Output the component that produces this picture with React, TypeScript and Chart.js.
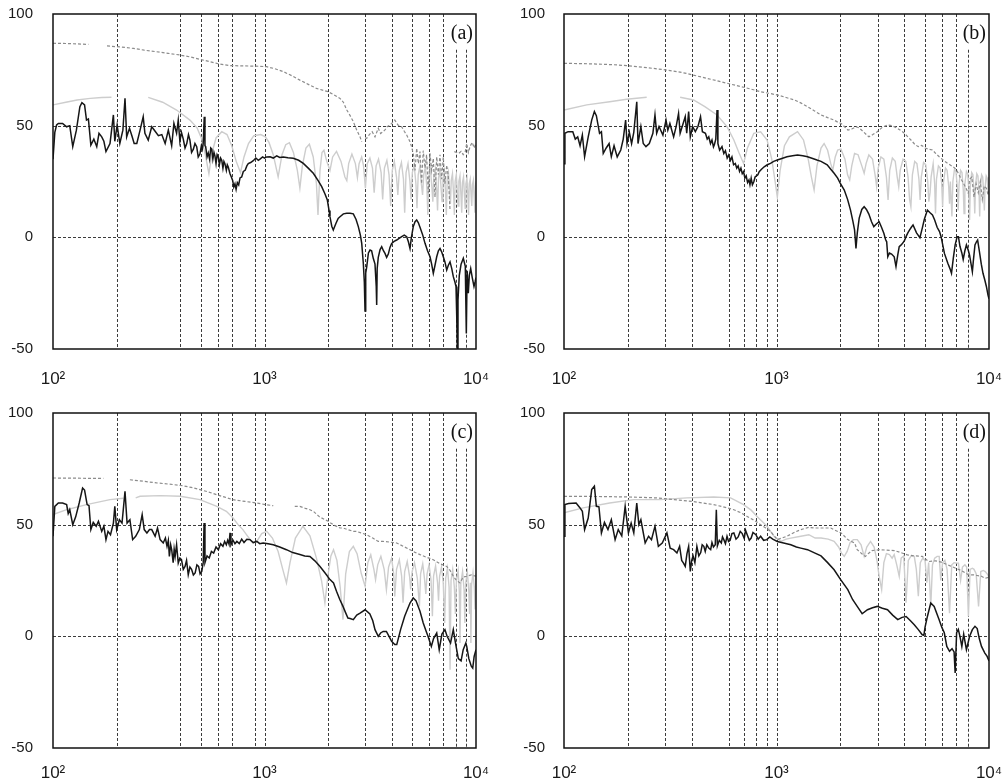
import React, { useEffect, useRef } from 'react';
import { Chart, registerables } from 'chart.js';

Chart.register(...registerables);

type Pt = [number, number | null];

// ---------- axes / grid ----------
const yTicks = [-50, 0, 50, 100];
const yGridValues = [0, 50];
const xTicks = [100, 1000, 10000];
const xTickLabels = ['10\u00B2', '10\u00B3', '10\u2074'];
const gridAC = [200, 400, 500, 600, 700, 900, 1000, 2000, 3000, 4000, 5000, 6000, 7000];
const gridACPartial = [8000, 9000];
const gridBD = [200, 300, 400, 600, 700, 800, 900, 1000, 2000, 3000, 4000, 5000, 6000, 7000];
const gridBDPartial = [8000];
const partialTop = 84;
const panelLabels = ['(a)', '(b)', '(c)', '(d)'];

// ---------- panel (a) ----------
const aBlack: Pt[] = [
  [100, 35], [102, 47], [104, 50.3], [106, 51], [111, 51], [116, 49.5], [120, 50], [124, 40.6], [129, 48], [134, 58.5],
  [137, 60.3], [141, 59.3], [144, 52.5], [147, 53], [151, 41.3], [156, 44], [161, 40.6], [165, 46.6], [170, 45], [174, 43],
  [178, 38.4], [186, 42], [193, 54.8], [196, 43], [201, 50.3], [207, 42], [214, 48], [219, 62.3], [223, 45], [230, 48.8],
  [236, 45.5], [242, 42], [249, 42], [258, 48], [267, 54], [272, 46.6], [282, 43.5], [293, 49.5], [304, 47.5], [315, 45.5],
  [327, 46], [339, 42], [351, 48], [364, 41], [373, 51], [384, 46.6], [391, 52.5], [398, 43], [405, 47], [413, 44],
  [421, 40], [429, 42], [437, 46], [444, 43.5], [452, 38], [461, 39.5], [469, 42], [478, 40.6], [486, 36], [495, 37.3],
  [503, 41], [508, 39.5], [513, 42], [519, 54], [523, 41], [527, 40.6], [535, 36], [542, 37.8], [550, 35], [557, 40],
  [563, 39.5], [570, 35], [577, 38], [583, 36.5], [590, 33], [597, 37], [605, 36], [612, 32.5], [620, 35.5], [628, 34.5],
  [636, 31], [643, 34], [650, 33], [660, 30], [667, 32.5], [674, 31.5], [687, 28.5], [697, 27], [707, 25.5], [716, 22.5],
  [725, 24], [734, 21.5], [744, 24.5], [755, 23.5], [766, 26.6], [780, 27], [794, 29.5], [810, 30], [825, 32], [838, 33],
  [860, 33.5], [885, 34.3], [910, 35.5], [935, 34.5], [952, 35], [980, 36], [1000, 35.5], [1024, 36], [1062, 36.1], [1100, 35.5],
  [1142, 36.5], [1180, 35.8], [1227, 36], [1290, 35.6], [1368, 35.4], [1450, 34.5], [1526, 33.1], [1610, 31], [1701, 28.7], [1790, 25.5],
  [1864, 22.7], [1930, 19.5], [1982, 16.7], [2020, 12], [2040, 9.2], [2080, 5], [2115, 3.3], [2140, 4.5], [2178, 6.3], [2230, 8.5],
  [2275, 9.2], [2360, 10.5], [2447, 10.8], [2540, 10.8], [2630, 10.5], [2710, 8], [2777, 4.8], [2840, 1], [2882, -2.7], [2932, -11.6],
  [2965, -20], [2987, -33], [3010, -16], [3043, -13.2], [3100, -7], [3155, -5.7], [3210, -6], [3268, -9.4], [3330, -12], [3375, -22],
  [3392, -30.3], [3410, -14], [3451, -9], [3520, -5.5], [3582, -4.2], [3650, -6], [3713, -7.2], [3780, -9], [3849, -7.5], [3920, -4.5],
  [3993, -2.7], [4100, -1.8], [4217, -1.2], [4330, -0.5], [4454, 0.3], [4580, 1], [4703, 0.3], [4790, -2], [4875, -5], [4950, 0],
  [5051, 4.8], [5150, 7], [5243, 7.8], [5340, 6.5], [5435, 4.5], [5600, 1], [5741, -2.7], [5900, -6], [6061, -8.7], [6170, -12],
  [6283, -16.1], [6400, -12.5], [6520, -8.7], [6640, -6], [6758, -5], [6880, -6.5], [7005, -8.7], [7130, -11], [7270, -14.6], [7400, -12.5],
  [7537, -11], [7680, -14], [7812, -17.6], [7950, -20], [8044, -22], [8110, -36], [8159, -50], [8220, -28], [8337, -17], [8500, -12],
  [8710, -9.4], [8900, -13], [9000, -43], [9080, -15], [9197, -25], [9300, -17], [9440, -14], [9600, -18], [9784, -22], [9900, -20],
  [10000, -18],
];
const aDashed: Pt[] = [
  [100, 86.9], [115, 86.8], [130, 86.6], [147, 86.4], [150, null],
  [180, 85.7], [210, 85.2], [240, 84.6], [270, 83.8], [309, 83.1], [350, 82.4], [400, 81.6], [450, 80.7], [495, 79.7], [545, 78.8],
  [595, 77.9], [640, 77.3], [687, 76.9], [760, 76.8], [854, 76.7], [940, 76.6], [1024, 76.4], [1120, 75.5], [1227, 74.2], [1350, 72.3],
  [1470, 70.4], [1610, 68.5], [1760, 66.7], [1880, 65.9], [2000, 65.2], [2130, 63.8], [2275, 62.2], [2360, 60.5], [2450, 57], [2540, 54.5],
  [2630, 51.8], [2730, 48], [2828, 45], [2882, 42.8], [2930, null],
  [2987, 44.5], [3043, 44.3], [3130, 46], [3230, 47.3], [3330, 45], [3451, 48.8], [3540, 46.5], [3638, 47.3], [3720, 48.2], [3800, 49.5],
  [3900, 50.2], [3993, 51], [4130, 52.5], [4276, 50.3], [4450, 49.5], [4580, 47.5], [4703, 45.8], [4875, 42.8], [4960, 40.5],
  [5050, 37.6], [5150, 30], [5243, 39.9], [5340, 33], [5435, 38.4], [5530, 24], [5630, 38.8], [5740, 31], [5840, 37], [5950, 20],
  [6060, 37.6], [6170, 30], [6283, 35.3], [6400, 18], [6520, 36], [6640, 28], [6758, 37], [6880, 26], [7005, 36], [7130, 24],
  [7270, 32.3], [7400, 27.1], [7537, 12], [7650, null],
  [7900, 38.4], [8100, 38], [8300, 37.6], [8500, 38.5], [8700, 37], [8900, 38.4], [9036, 42], [9200, 38], [9400, 41], [9600, 42.5],
  [9800, 40], [10000, 42],
];
const aLight: Pt[] = [
  [100, 59.3], [115, 60.5], [130, 61.5], [150, 62.2], [170, 62.6], [189, 62.7], [192, null],
  [282, 62.7], [330, 60.5], [384, 57], [444, 52.5], [480, 49], [505, 44], [525, 37], [546, 28.5], [565, 38],
  [590, 44.5], [628, 47.3], [665, 46], [700, 41], [735, 34], [770, 29], [800, 36], [840, 42], [890, 45.5], [960, 46],
  [1010, 45], [1050, 42.5], [1100, 37], [1160, 27.1], [1210, 37], [1260, 41.5], [1312, 42.4], [1370, 38], [1430, 30], [1470, 22],
  [1510, 32], [1570, 40], [1630, 41.7], [1700, 36], [1760, 24], [1790, 10], [1830, 30], [1870, 38], [1910, 39], [1970, 34],
  [2040, 30], [2100, 36], [2190, 38.5], [2300, 34], [2400, 27], [2450, 25.4], [2500, 33], [2590, 37.3], [2690, 33], [2750, 26.7],
  [2800, 33], [2880, 36], [2940, 32], [3000, 22], [3060, 33], [3150, 35.5], [3240, 31], [3300, 20], [3370, 32], [3460, 35],
  [3560, 29], [3620, 17], [3690, 31], [3790, 34.5], [3880, 28], [3950, 14], [4020, 30], [4110, 34], [4210, 27], [4270, 19],
  [4340, 30], [4440, 33.5], [4540, 26], [4600, 11], [4670, 29], [4770, 33], [4870, 25], [4930, 17], [5000, 29], [5100, 32.5],
  [5200, 24], [5260, 13], [5330, 28], [5430, 32], [5530, 23], [5590, 19], [5660, 28], [5760, 31.5], [5860, 22], [5920, 10],
  [5990, 27], [6090, 31], [6190, 22], [6250, 16], [6320, 27], [6420, 30.5], [6520, 21], [6580, 12], [6650, 26.5], [6750, 30],
  [6850, 21], [6910, 16], [6980, 26], [7080, 29.5], [7180, 20], [7240, 10], [7310, 26], [7410, 29], [7510, 20], [7570, 15],
  [7640, 25.5], [7740, 28.5], [7840, 19], [7900, 10], [7970, 25], [8070, 28], [8170, 19], [8230, 14], [8300, 25], [8400, 27.5],
  [8500, 18], [8560, 11], [8630, 24.5], [8730, 27], [8830, 18], [8890, 13], [8960, 24], [9060, 26.5], [9160, 18], [9220, 10],
  [9290, 24], [9390, 26], [9490, 18], [9550, 14], [9620, 23.5], [9720, 25.5], [9820, 17], [9880, 11], [9950, 23], [10000, 25],
];

// ---------- panel (b) ----------
const bBlack: Pt[] = [
  [100, 33], [101, 46.6], [104.5, 47.3], [110, 47.3], [113, 44], [116, 45], [119, 41], [122, 45.8], [125, 36.1], [130, 45],
  [135, 52.5], [139, 56.3], [142, 54.5], [147, 46.6], [150, 47.3], [153, 37.6], [158, 40], [163, 42], [167, 36.1], [172, 41],
  [178, 36], [185, 39.1], [190, 44], [195, 52.5], [198, 42], [203, 47], [208, 42], [213, 47], [220, 60.7], [223, 42],
  [230, 49.6], [236, 42], [243, 40.6], [252, 42], [262, 46.6], [268, 54.8], [273, 46.6], [280, 49.6], [292, 45.8], [302, 52.5],
  [308, 48], [315, 51], [328, 45], [337, 49.6], [346, 55.5], [352, 46.6], [360, 49.6], [372, 54], [378, 46.6], [386, 56.3],
  [393, 45], [403, 49.6], [415, 47.3], [427, 49.6], [439, 54], [448, 47.3], [463, 46.6], [472, 44], [480, 45], [489, 42],
  [497, 43.6], [505, 40.5], [510, 41.5], [518, 44], [525, 57], [530, 42], [540, 39], [554, 40.6], [565, 37.5], [575, 38.8],
  [586, 35.5], [596, 36.9], [607, 34.5], [617, 36], [628, 32.5], [640, 33.1], [650, 31], [660, 32], [670, 29.5], [680, 31],
  [690, 28.5], [700, 29.4], [710, 26.5], [720, 27.5], [731, 24.5], [742, 25.7], [750, 23.5], [760, 26.5], [770, 23.5], [782, 24.9],
  [793, 27], [805, 27.5], [817, 28], [829, 29.4], [850, 30.5], [875, 31.6], [905, 32.5], [937, 33.1], [970, 34], [1009, 34.6],
  [1060, 35.3], [1120, 36.1], [1190, 36.5], [1256, 36.9], [1330, 36.5], [1400, 36.1], [1480, 35.3], [1550, 34.6], [1620, 34], [1732, 32.5],
  [1800, 30.5], [1867, 28.7], [1940, 26.5], [2000, 24], [2084, 21.2], [2160, 17], [2230, 12.2], [2290, 7], [2330, 3.3], [2366, -5],
  [2400, 2], [2450, 8.6], [2520, 12.5], [2585, 13.7], [2650, 12.5], [2720, 10.4], [2800, 7], [2870, 4.8], [2950, 6], [3040, 7],
  [3120, 4.5], [3200, 1.8], [3260, -1], [3300, -2], [3340, -8.7], [3400, -7], [3480, -7.5], [3580, -8.7], [3650, -13.1], [3720, -8],
  [3780, -4.2], [3850, -3.5], [3920, -2.7], [4000, -1.5], [4070, 0.3], [4150, 2], [4230, 3.3], [4310, 4.5], [4390, 5.5], [4560, 2],
  [4730, -0.2], [4850, 4], [4960, 8], [5130, 12.2], [5280, 11], [5420, 10], [5550, 7.8], [5700, 4.5], [5850, 2.6], [5950, 0.3],
  [6170, -7.2], [6400, -11.6], [6550, -14], [6660, -16.1], [6800, -9], [6930, -3.4], [7080, 0.3], [7180, 0.3], [7300, -4], [7450, -7],
  [7560, -9.9], [7700, -6], [7830, -3.4], [8000, -6], [8100, -8], [8350, -15.4], [8450, -10], [8590, -3.4], [8730, -2], [8840, -1.2],
  [9000, -6], [9200, -12], [9370, -16.1], [9550, -19], [9720, -22], [9900, -26], [10000, -27.5],
];
const bDashed: Pt[] = [
  [100, 77.9], [120, 77.8], [142, 77.6], [170, 77.3], [197, 76.9], [245, 76], [305, 74.9], [340, 74.2], [378, 73.4], [420, 72.3],
  [470, 71.2], [520, 70.2], [585, 69], [640, 68.1], [700, 67.2], [770, 66.2], [842, 65.2], [920, 64.5], [1015, 63.7], [1110, 62.6],
  [1213, 61.5], [1300, 60.2], [1400, 58.5], [1510, 56.6], [1620, 54.8], [1740, 53.6], [1867, 52.5], [1940, 51.6], [2015, 51], [2090, 49.5],
  [2170, 48], [2260, 48.5], [2366, 49.5], [2450, 49], [2560, 47.3], [2720, 45], [2840, 46], [2980, 47.3], [3150, 49.3], [3330, 50.3],
  [3500, 50], [3680, 49], [3850, 47.8], [4000, 46.6], [4150, 45], [4290, 43.6], [4460, 41.8], [4640, 40.6], [4820, 41.2], [5000, 40],
  [5200, 39.5], [5420, 39.1], [5620, 37.5], [5830, 36.1], [6100, 34.5], [6400, 33.1], [6800, 31.5], [7000, 30.5], [7180, 28.6], [7400, 26],
  [7600, 24], [7800, 22], [7990, 19.7], [8100, 26], [8300, 27], [8500, 18], [8700, 24], [8900, 20], [9100, 25], [9300, 17],
  [9500, 23], [9720, 22], [9900, 19], [10000, 21],
];
const bLight: Pt[] = [
  [100, 57], [128, 59.3], [164, 60.7], [197, 61.8], [245, 62.7], [250, null],
  [352, 62.7], [407, 61.5], [460, 58.5], [525, 54.8], [585, 49.6], [630, 43.6], [665, 38], [700, 33.1], [730, 40], [782, 46.6],
  [842, 47.3], [903, 43.6], [950, 35], [985, 25], [1009, 18], [1040, 30], [1090, 41], [1150, 45], [1256, 47.3], [1340, 43.6],
  [1410, 35], [1460, 27], [1503, 21.2], [1550, 32], [1620, 40], [1675, 42], [1740, 39], [1800, 33], [1840, 30], [1890, 36],
  [1940, 39.1], [2010, 39.5], [2100, 35], [2160, 28], [2210, 25.7], [2260, 32], [2330, 37.6], [2420, 37], [2520, 32], [2585, 28.7],
  [2640, 33], [2720, 36.9], [2830, 35], [2910, 28], [2960, 22.7], [3010, 31], [3100, 36], [3200, 35], [3290, 27], [3350, 16.7],
  [3410, 30], [3510, 35.5], [3620, 34], [3700, 27], [3760, 22.7], [3820, 30], [3940, 35], [4060, 34], [4160, 27], [4230, 17],
  [4290, 13.7], [4360, 28], [4470, 34], [4580, 33], [4680, 26], [4740, 16.7], [4800, 27], [4920, 33.5], [5040, 32.5], [5150, 25],
  [5210, 16], [5280, 20], [5340, 27], [5460, 33], [5550, 24], [5600, 10.7], [5660, 26], [5780, 32], [5890, 31], [5990, 24],
  [6050, 13.7], [6110, 25], [6240, 31], [6350, 30], [6460, 23], [6520, 15], [6580, 25], [6690, 9.3], [6760, 25], [6880, 30.5],
  [6990, 29.5], [7100, 22], [7160, 12], [7230, 24], [7350, 30], [7460, 29], [7570, 21], [7630, 10.7], [7700, 24], [7830, 29.5],
  [7940, 28.5], [8040, 21], [8100, 7.8], [8170, 23], [8290, 29], [8400, 28], [8510, 20], [8570, 10.7], [8640, 23], [8760, 28.5],
  [8870, 27.5], [8980, 20], [9040, 9.3], [9110, 22], [9230, 28], [9340, 27], [9450, 19], [9510, 12], [9580, 22], [9700, 27.5],
  [9810, 26.5], [9920, 19], [10000, 27],
];

// ---------- panel (c) ----------
const cBlack: Pt[] = [
  [100, 44.8], [102, 58.2], [106, 59.7], [111, 59.7], [116, 59], [118, 55], [120, 56.7], [124, 50], [128, 53.5], [133, 59.7],
  [138, 66.4], [141, 65.5], [145, 59], [148, 58.5], [151, 47.8], [155, 51], [160, 49.3], [164, 51.5], [170, 47], [174, 49.3],
  [178, 43.3], [182, 47], [187, 45.5], [193, 50.7], [196, 58.2], [200, 47.8], [206, 52.2], [212, 50.7], [219, 64.9], [224, 50.7],
  [231, 52.2], [238, 43.3], [246, 44.8], [256, 47.8], [264, 54.5], [270, 47.8], [278, 46.3], [286, 47.8], [293, 47.8], [304, 44.8],
  [312, 48.5], [321, 43.3], [332, 41.8], [340, 44], [346, 40.3], [351, 43], [355, 35.8], [360, 41], [364, 38.8], [370, 33],
  [374, 39], [378, 35.8], [384, 41], [391, 32.8], [398, 35], [405, 34.3], [413, 30], [421, 31.3], [428, 34], [436, 27.6],
  [444, 31], [452, 30], [461, 27.5], [470, 28.4], [479, 32], [488, 31.3], [496, 28], [505, 29.1], [513, 33], [518, 50.7],
  [523, 33], [535, 36], [548, 35.1], [561, 38], [575, 37.3], [590, 40], [605, 38.8], [620, 41.5], [636, 40.3], [648, 42.5],
  [660, 41], [670, 43], [680, 41.2], [687, 46.3], [694, 41], [710, 43], [725, 41.5], [740, 42.5], [760, 41.5], [780, 43.5],
  [800, 42], [825, 43.5], [854, 43.3], [885, 42], [920, 42.5], [950, 41.5], [985, 41.8], [1040, 41.5], [1100, 41], [1180, 40],
  [1270, 38.8], [1360, 37.5], [1470, 36.6], [1550, 36], [1640, 35.8], [1730, 33.8], [1830, 31.3], [1930, 28.5], [2040, 25.4], [2120, 23.9],
  [2190, 20.2], [2270, 16.5], [2350, 13.4], [2420, 10.5], [2480, 8.2], [2540, 8], [2630, 7.5], [2730, 9.5], [2830, 10.4], [2990, 11.9],
  [3150, 10], [3250, 7], [3330, 3], [3450, 0], [3540, 1.5], [3640, 2.2], [3770, 2.2], [3880, 0], [3990, -2.2], [4130, -3.7],
  [4220, -3.7], [4400, 3], [4600, 9], [4875, 14.9], [5050, 17.2], [5200, 16], [5435, 11.2], [5630, 6], [5800, 2.5], [5930, 0],
  [6150, -4.5], [6300, -1], [6520, 1.5], [6700, -6], [6900, 1], [7130, 3], [7300, 0], [7580, -3], [7810, 3], [8000, -3],
  [8250, -10], [8500, -11], [8700, -6], [8950, -3], [9040, -4.5], [9250, -10], [9500, -13.4], [9650, -14.2], [9800, -9], [10000, -6],
];
const cDashed: Pt[] = [
  [100, 70.9], [130, 70.8], [173, 70.7], [176, null],
  [231, 70.1], [270, 69.4], [309, 68.7], [350, 68.2], [400, 67.6], [450, 66.7], [495, 65.7], [545, 64.6], [595, 63.4], [650, 62.3],
  [710, 61.2], [810, 60.4], [918, 59.7], [1010, 59], [1100, 58.5], [1120, null],
  [1390, 58.2], [1470, 58.2], [1560, 57.3], [1640, 56.7], [1700, 56], [1820, 53.5], [2000, 51.5], [2130, 49.8], [2275, 48.5], [2350, 48.5],
  [2630, 47], [2720, 47], [3040, 45.5], [3250, 44], [3450, 42.5], [3640, 42.5], [3900, 42.2], [4220, 41.8], [4550, 40.2], [4875, 38.8],
  [5150, 37.6], [5435, 36.6], [5800, 35.5], [6280, 34.3], [6760, 32.5], [7270, 31.3], [7540, 29.5], [7800, 27], [8030, 25.4], [8390, 23.9],
  [8700, 26.5], [9040, 26.9], [9500, 27.5], [10000, 26.9],
];
const cLight: Pt[] = [
  [100, 54.5], [116, 56.7], [144, 59], [186, 61.2], [215, 61.8], [218, null],
  [246, 62], [258, 62.7], [321, 63], [400, 62.7], [495, 61.2], [595, 58.2], [660, 56], [710, 53], [750, 50], [790, 47.8],
  [830, 45], [880, 41.8], [920, 42.5], [970, 46], [1024, 47], [1090, 44], [1160, 38], [1220, 30], [1270, 23.9], [1320, 33],
  [1400, 44], [1520, 49.3], [1640, 45], [1760, 35], [1860, 25], [1930, 15], [2000, 28], [2060, 36], [2120, 38.8], [2200, 34],
  [2280, 22], [2350, 7.5], [2420, 28], [2520, 38], [2630, 40.3], [2740, 37], [2870, 28], [2990, 22.4], [3080, 33], [3180, 36.5],
  [3290, 30], [3350, 25.4], [3430, 32], [3550, 35.8], [3680, 30], [3770, 20.9], [3860, 31], [3990, 35], [4080, 28], [4130, 17.9],
  [4210, 30], [4340, 34.3], [4450, 27], [4520, 15], [4600, 29], [4730, 33.5], [4850, 27], [4910, 21], [4990, 29], [5120, 33],
  [5280, 26], [5400, 13.4], [5470, 28], [5600, 32.5], [5720, 25], [5790, 19], [5870, 28], [6000, 32], [6130, 25], [6220, 9],
  [6300, 27], [6440, 31.5], [6580, 24], [6650, 16], [6730, 27], [6870, 31], [7000, 24], [7110, 6], [7190, 26], [7330, 30.5],
  [7460, 22], [7540, -15], [7620, 25], [7760, 30], [7900, 22], [7990, 10], [8080, 25], [8230, 29.5], [8340, 20], [8400, -3],
  [8480, 24], [8640, 29], [8780, 21], [8860, 6], [8950, 24], [9100, 29], [9250, 20], [9320, 10], [9400, 24], [9460, -3],
  [9530, 23], [9680, 28.5], [9820, 22], [9900, 12], [10000, 28],
];

// ---------- panel (d) ----------
const dBlack: Pt[] = [
  [100, 44.8], [101, 59], [105, 59.5], [114, 59.7], [119, 57.5], [122, 56], [125, 47.8], [130, 53], [135, 65.7], [139, 67.2],
  [142, 58.2], [146, 58], [150, 46.3], [155, 51], [161, 47.8], [167, 52.2], [174, 43.3], [180, 47.8], [187, 45], [194, 58.2],
  [201, 46.3], [207, 50.7], [213, 46.3], [220, 59.7], [225, 50], [230, 52.2], [241, 41.8], [250, 44.8], [258, 43.3], [268, 49.3],
  [278, 40.3], [290, 41.8], [305, 46.3], [316, 39.5], [328, 38.8], [340, 37.3], [350, 40.3], [358, 34], [365, 32.8], [372, 31.3],
  [379, 37], [386, 40.3], [393, 29.1], [399, 34], [405, 36], [413, 33], [422, 40.3], [431, 36], [440, 37.5], [447, 41],
  [455, 40.3], [462, 38], [470, 41], [480, 39.5], [490, 38.8], [497, 42], [505, 40], [515, 41], [521, 56.7], [527, 40.5],
  [538, 43], [550, 41.8], [557, 44.5], [565, 43.3], [575, 41.5], [585, 44.8], [595, 42.5], [605, 43], [617, 46], [630, 46.3],
  [645, 43.5], [660, 44.5], [675, 47], [690, 46], [705, 43.8], [715, 47.5], [728, 45.5], [745, 43], [760, 44], [775, 46.5],
  [800, 45.5], [820, 43.5], [842, 44.8], [870, 43], [900, 43.3], [930, 44.5], [960, 43.5], [1009, 42.5], [1080, 41.8], [1168, 41],
  [1240, 40], [1301, 39.5], [1400, 38.8], [1500, 37.5], [1620, 36], [1740, 33], [1867, 29.8], [2000, 25.5], [2165, 20.9], [2280, 16.5],
  [2398, 13.4], [2530, 10.1], [2680, 11.9], [2830, 12.8], [2980, 13.4], [3150, 12.6], [3330, 11.9], [3520, 9.5], [3720, 7.5], [3900, 8.5],
  [4075, 8.9], [4270, 7], [4450, 5.2], [4650, 3], [4850, 0.7], [4940, 0.5], [5000, 4], [5130, 8.9], [5320, 14.9], [5520, 13.4],
  [5820, 7.5], [6000, 4], [6160, 1.6], [6330, -4.5], [6520, -6.7], [6700, -5.5], [6850, -7], [6930, -16.4], [7040, 1.6], [7170, 3.1],
  [7300, 0], [7450, -4.5], [7600, 1], [7830, -6], [8110, 0.1], [8350, 3], [8590, 4.5], [8800, 3.5], [9000, -1], [9220, -4.5],
  [9560, -7.5], [9800, -9], [10000, -11],
];
const dDashed: Pt[] = [
  [100, 62.7], [150, 62.6], [200, 62.4], [273, 62], [330, 61.2], [400, 60.4], [506, 59], [560, 58], [630, 56.7], [680, 55.3],
  [728, 53.7], [790, 51.8], [842, 50], [890, 48.5], [937, 47], [1009, 43.3], [1060, 44], [1120, 44.8], [1210, 46.5], [1301, 47.8],
  [1420, 48.8], [1503, 48.5], [1650, 48.5], [1800, 48.5], [1867, 47.7], [2015, 46.3], [2165, 43.3], [2330, 41.8], [2398, 38.8], [2520, 37],
  [2620, 35.8], [2700, 37], [2812, 38.4], [3070, 38.8], [3300, 38.6], [3580, 38.4], [3850, 37.5], [4130, 36.5], [4500, 36], [4850, 35.8],
  [5200, 33.5], [5600, 33.8], [5960, 33.2], [6400, 32], [6930, 30.6], [7400, 29.5], [7990, 27.6], [8500, 27.5], [9220, 26.9], [9600, 26],
  [10000, 26.5],
];
const dLight: Pt[] = [
  [100, 55.3], [123, 57.5], [164, 59.7], [212, 61.2], [283, 61.2], [378, 62], [506, 62.4], [608, 62], [700, 59], [760, 56.5],
  [810, 53.7], [903, 49.3], [973, 44.8], [1050, 42.5], [1110, 43.5], [1168, 44], [1301, 44.8], [1420, 45.5], [1520, 44], [1620, 44],
  [1750, 43.5], [1867, 42.5], [1960, 40], [2030, 37], [2084, 35.8], [2150, 38], [2220, 42], [2300, 43.3], [2400, 43.3], [2500, 41],
  [2585, 35.8], [2660, 40], [2770, 42.5], [2880, 40], [2970, 34], [3040, 27], [3125, 21], [3200, 33], [3290, 37], [3400, 36.6],
  [3500, 35], [3580, 36.6], [3680, 32], [3780, 26.9], [3860, 35], [3970, 36], [4070, 15], [4170, 34], [4300, 36], [4450, 35.8],
  [4550, 30], [4650, 18], [4750, 33], [4880, 35], [5000, 34], [5100, 24], [5200, 33], [5320, 13.4], [5420, 32], [5550, 35],
  [5700, 35.8], [5830, 35.8], [5930, 25], [6050, 33], [6200, 34], [6350, 30], [6520, 10.4], [6680, 32], [6850, 33], [7020, 32.8],
  [7180, 32.8], [7350, 25], [7500, 31], [7700, 32], [7850, 31], [8000, 9], [8150, 30], [8350, 30.5], [8500, 30], [8700, 28],
  [8930, 13.4], [9150, 29], [9400, 29.5], [9600, 29], [9800, 28], [9960, 27], [10000, 27],
];

type PanelProps = {
  left: number; top: number; width: number; height: number;
  plot: { left: number; top: number; right: number; bottom: number };
  label: string; black: Pt[]; dashed: Pt[]; light: Pt[];
  grid: number[]; gridPartial: number[]; xPad: number; yPad: number;
};

const zeroPad = (s: any) => {
  s.paddingTop = 0; s.paddingBottom = 0; s.paddingLeft = 0; s.paddingRight = 0;
};

function Panel(p: PanelProps) {
  const ref = useRef<HTMLCanvasElement>(null);
  useEffect(() => {
    const canvas = ref.current!;
    const toXY = (arr: Pt[]) => arr.map(([x, y]) => ({ x, y }));
    const overlay = {
      id: 'overlay',
      beforeDatasetsDraw(chart: any) {
        const { ctx, chartArea: ca, scales } = chart;
        const xs = scales.x, ys = scales.y;
        ctx.save();
        ctx.strokeStyle = '#3c3c3c';
        ctx.lineWidth = 1;
        ctx.setLineDash([3, 2]);
        for (const v of yGridValues) {
          const py = Math.round(ys.getPixelForValue(v)) + 0.5;
          ctx.beginPath(); ctx.moveTo(ca.left, py); ctx.lineTo(ca.right, py); ctx.stroke();
        }
        for (const f of p.grid) {
          const px = Math.round(xs.getPixelForValue(f)) + 0.5;
          ctx.beginPath(); ctx.moveTo(px, ca.top); ctx.lineTo(px, ca.bottom); ctx.stroke();
        }
        for (const f of p.gridPartial) {
          const px = Math.round(xs.getPixelForValue(f)) + 0.5;
          ctx.beginPath(); ctx.moveTo(px, ys.getPixelForValue(partialTop)); ctx.lineTo(px, ca.bottom); ctx.stroke();
        }
        ctx.restore();
      },
      afterDatasetsDraw(chart: any) {
        const { ctx, chartArea: ca } = chart;
        ctx.save();
        ctx.setLineDash([]);
        ctx.strokeStyle = '#111';
        ctx.lineWidth = 1.5;
        ctx.strokeRect(ca.left, ca.top, ca.right - ca.left, ca.bottom - ca.top);
        ctx.font = '20px "Liberation Serif", "DejaVu Serif", serif';
        ctx.fillStyle = '#111';
        ctx.textAlign = 'right';
        ctx.textBaseline = 'middle';
        ctx.fillText(p.label, ca.right - 3, ca.top + 20);
        ctx.restore();
      },
    };
    const chart = new Chart(canvas, {
      type: 'line',
      data: {
        datasets: [
          { data: toXY(p.black) as any, borderColor: '#161616', borderWidth: 1.5, pointRadius: 0, tension: 0, spanGaps: false },
          { data: toXY(p.dashed) as any, borderColor: '#8c8c8c', borderWidth: 1.2, borderDash: [3, 2], pointRadius: 0, tension: 0, spanGaps: false },
          { data: toXY(p.light) as any, borderColor: '#cdcdcd', borderWidth: 1.4, pointRadius: 0, tension: 0, spanGaps: false },
        ],
      },
      options: {
        responsive: false,
        animation: false,
        events: [],
        layout: { padding: { left: 0, top: p.plot.top, right: p.width - p.plot.right, bottom: 0 } },
        plugins: { legend: { display: false }, tooltip: { enabled: false } },
        scales: {
          x: {
            type: 'logarithmic', min: 100, max: 10000,
            afterBuildTicks: (s: any) => { s.ticks = xTicks.map((value) => ({ value })); },
            afterFit: (s: any) => { s.height = p.height - p.plot.bottom; zeroPad(s); },
            grid: { display: false, drawTicks: false },
            border: { display: false },
            ticks: {
              autoSkip: false, maxRotation: 0, minRotation: 0, padding: p.xPad, color: '#1a1a1a',
              font: { family: '"Liberation Sans", Arial, "DejaVu Sans", sans-serif', size: 17 },
              callback: (v: any) => { const i = xTicks.indexOf(Number(v)); return i >= 0 ? xTickLabels[i] : ''; },
            },
          },
          y: {
            type: 'linear', min: -50, max: 100,
            afterBuildTicks: (s: any) => { s.ticks = yTicks.map((value) => ({ value })); },
            afterFit: (s: any) => { s.width = p.plot.left; zeroPad(s); },
            grid: { display: false, drawTicks: false },
            border: { display: false },
            ticks: {
              padding: p.yPad, color: '#1a1a1a',
              font: { family: '"Liberation Sans", Arial, "DejaVu Sans", sans-serif', size: 15 },
              callback: (v: any) => String(v),
            },
          },
        },
      } as any,
      plugins: [overlay],
    });
    return () => chart.destroy();
  }, []);
  return (
    <canvas
      ref={ref}
      width={p.width}
      height={p.height}
      style={{ position: 'absolute', left: p.left, top: p.top, width: p.width, height: p.height }}
    />
  );
}

export default function App() {
  return (
    <div style={{ position: 'absolute', left: 0, top: 0, width: 1003, height: 783, background: '#fff', overflow: 'hidden' }}>
      <Panel left={0} top={0} width={500} height={392} plot={{ left: 53, top: 14, right: 476, bottom: 349 }}
        label={panelLabels[0]} black={aBlack} dashed={aDashed} light={aLight} grid={gridAC} gridPartial={gridACPartial} xPad={20} yPad={20} />
      <Panel left={500} top={0} width={503} height={392} plot={{ left: 64, top: 14, right: 489, bottom: 349 }}
        label={panelLabels[1]} black={bBlack} dashed={bDashed} light={bLight} grid={gridBD} gridPartial={gridBDPartial} xPad={20} yPad={19} />
      <Panel left={0} top={392} width={500} height={391} plot={{ left: 53, top: 21, right: 476, bottom: 356 }}
        label={panelLabels[2]} black={cBlack} dashed={cDashed} light={cLight} grid={gridAC} gridPartial={gridACPartial} xPad={15} yPad={20} />
      <Panel left={500} top={392} width={503} height={391} plot={{ left: 64, top: 21, right: 489, bottom: 356 }}
        label={panelLabels[3]} black={dBlack} dashed={dDashed} light={dLight} grid={gridBD} gridPartial={gridBDPartial} xPad={15} yPad={19} />
    </div>
  );
}
